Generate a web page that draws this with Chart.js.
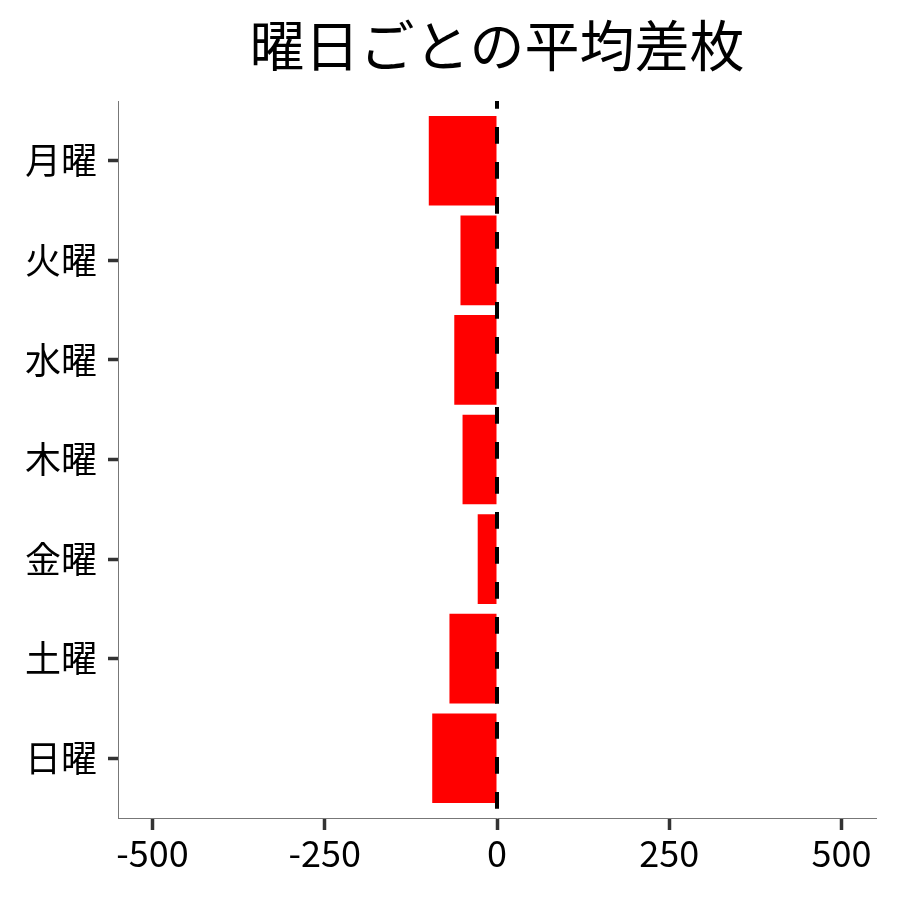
<!DOCTYPE html>
<html>
<head>
<meta charset="utf-8">
<script src="https://cdn.jsdelivr.net/npm/chart.js@4.4.1/dist/chart.umd.min.js"></script>
<style>
  html, body { margin: 0; padding: 0; background: #fff; }
  #wrap { width: 900px; height: 900px; }
</style>
</head>
<body>
<div id="wrap"><canvas id="chart" width="900" height="900"></canvas></div>
<script>
// ── Data ────────────────────────────────────────────────────
const days    = ['月曜', '火曜', '水曜', '木曜', '金曜', '土曜', '日曜'];
const avgDiff = [-99, -53, -62, -50, -28, -69, -94];
const xTicks  = [-500, -250, 0, 250, 500];

const FONT = "'Noto Sans CJK JP', 'Noto Sans', sans-serif";

// dashed reference line at x = 0
const zeroLine = {
  id: 'zero-line',
  afterDatasetsDraw(chart) {
    const { ctx, chartArea: { top, bottom }, scales: { x } } = chart;
    const px = x.getPixelForValue(0);
    ctx.save();
    ctx.strokeStyle = '#000';
    ctx.lineWidth = 4;
    ctx.setLineDash([16.7, 18.3]);
    ctx.lineDashOffset = 9;
    ctx.beginPath();
    ctx.moveTo(px, top);
    ctx.lineTo(px, bottom);
    ctx.stroke();
    ctx.restore();
  }
};

new Chart(document.getElementById('chart'), {
  type: 'bar',
  data: {
    datasets: [{
      data: avgDiff.map((v, i) => ({ x: v, y: i })),
      backgroundColor: '#ff0000',
      borderWidth: 0,
      barPercentage: 0.9,
      categoryPercentage: 1,
    }]
  },
  options: {
    indexAxis: 'y',
    responsive: false,
    animation: false,
    layout: { padding: { left: 0, right: 24, top: 0, bottom: 0 } },
    plugins: {
      legend: { display: false },
      tooltip: { enabled: false },
      title: {
        display: true,
        text: '曜日ごとの平均差枚',
        fullSize: false,
        color: '#000',
        font: { family: FONT, size: 55, weight: 'normal', lineHeight: 1.2 },
        padding: { top: 12, bottom: 23 }
      }
    },
    scales: {
      x: {
        type: 'linear',
        min: -550, max: 550,
        afterFit: s => { s.height = 82; },
        ticks: {
          stepSize: 250,
          includeBounds: false,
          color: '#000',
          font: { family: FONT, size: 36 },
          padding: 2,
          callback: v => xTicks.includes(v) ? String(v) : ''
        },
        grid: { drawOnChartArea: false, drawTicks: true, tickLength: 12, tickWidth: 3.5, tickColor: '#333' },
        border: { display: true, color: '#777', width: 1 }
      },
      y: {
        type: 'linear',
        min: -0.6, max: 6.6,
        reverse: true,
        offset: false,
        afterFit: s => { s.width = 118; },
        ticks: {
          stepSize: 1,
          includeBounds: false,
          autoSkip: false,
          color: '#000',
          font: { family: FONT, size: 36 },
          padding: 11,
          callback: v => days[v] ?? ''
        },
        grid: { offset: false, drawOnChartArea: false, drawTicks: true, tickLength: 10, tickWidth: 3.5, tickColor: '#333' },
        border: { display: true, color: '#777', width: 1 }
      }
    }
  },
  plugins: [zeroLine]
});
</script>
</body>
</html>
